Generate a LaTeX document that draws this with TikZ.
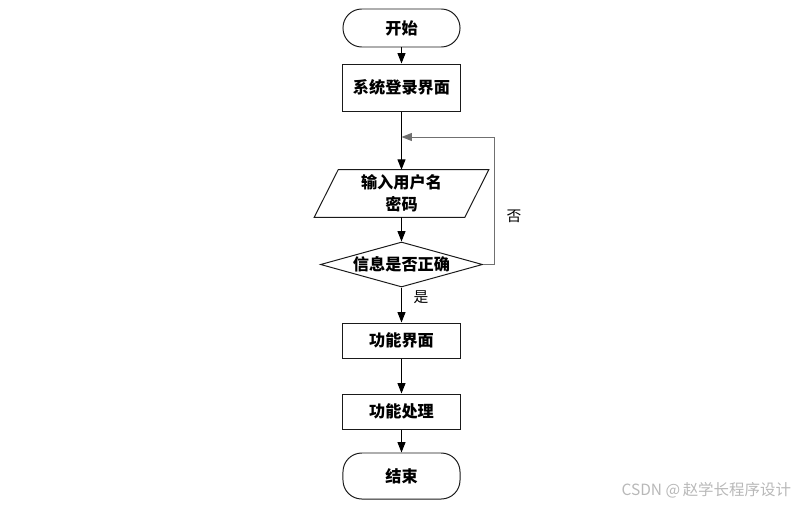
\documentclass[tikz,border=0pt]{standalone}
\usepackage{fontspec}
\setmainfont{Liberation Sans}
\newfontfamily\cjk{Noto Sans CJK SC}
\usetikzlibrary{arrows.meta,shapes.geometric}
\definecolor{LineDark}{HTML}{1A1A1A}
\definecolor{LoopGray}{HTML}{707070}
\definecolor{MarkGray}{HTML}{B8B8B8}

\begin{document}
\begin{tikzpicture}[
  x=0.025cm, y=-0.025cm,
  line join=miter,
  >={Triangle[length=0.26cm,width=0.2cm]},
  every node/.style={font=\cjk\fontsize{11.5pt}{14pt}\selectfont},
  terminal/.style={draw=LineDark, line width=0.7pt, rounded corners=0.47cm,
    minimum width=2.925cm, inner sep=0pt, font=\cjk\bfseries\fontsize{11.5pt}{14pt}\selectfont},
  procbox/.style={draw=LineDark, line width=0.7pt, minimum width=2.925cm,
    inner sep=0pt, font=\cjk\bfseries\fontsize{11.5pt}{14pt}\selectfont},
  iobox/.style={minimum width=3.75cm, minimum height=1.175cm, inner sep=0pt,
    align=center, font=\cjk\bfseries\fontsize{11.5pt}{16pt}\selectfont},
  decision/.style={draw=LineDark, line width=0.7pt, diamond, aspect=3.6,
    inner sep=0pt, minimum width=4.05cm, minimum height=1.125cm,
    font=\cjk\bfseries\fontsize{11.5pt}{14pt}\selectfont},
  flow/.style={draw=black, line width=0.7pt, ->},
  lbl/.style={font=\cjk\fontsize{10.5pt}{12pt}\selectfont}
]

% canvas
\useasboundingbox (0,0) rectangle (807,506);

% === Nodes ===
\node[terminal, minimum height=0.95cm]  (start) at (401.5,28)  {开始};
\node[procbox,  minimum height=1.175cm] (login) at (401.5,87.5) {系统登录界面};
\node[iobox]                            (input) at (401.5,193.5) {输入用户名\\密码};
\node[decision]                         (check) at (401.5,264.5) {信息是否正确};
\node[procbox,  minimum height=0.875cm] (func)  at (401.5,340.5) {功能界面};
\node[procbox,  minimum height=0.875cm] (proc)  at (401.5,411.5) {功能处理};
\node[terminal, minimum height=1.15cm]  (stop)  at (401.5,476)   {结束};

% parallelogram outline round the input node
\draw[LineDark, line width=0.7pt]
  ([xshift=0.3cm]input.north west) -- ([xshift=0.3cm]input.north east)
  -- ([xshift=-0.3cm]input.south east) -- ([xshift=-0.3cm]input.south west) -- cycle;

% === Connectors ===
\draw[flow] (start) -- (login);
\draw[flow] (login) -- (input);
\draw[flow] (input) -- (check);
\draw[flow] (check) -- (func);
\draw[flow] (func) -- (proc);
\draw[flow] (proc) -- (stop);

% loop back when the check fails
\coordinate (loopR)  at (494,137);
\coordinate (loopIn) at (401.5,137);
\draw[LoopGray, line width=0.7pt, ->] (check.east) -| (loopR) -- (loopIn);

% branch labels
\node[lbl] (no)  at (514,216) {否};
\node[lbl] (yes) at (421,297) {是};

% watermark
\node[MarkGray, anchor=east, font=\cjk\fontsize{11pt}{13pt}\selectfont] (mark) at (796,490) {CSDN @\,赵学长程序设计};

\end{tikzpicture}
\end{document}
